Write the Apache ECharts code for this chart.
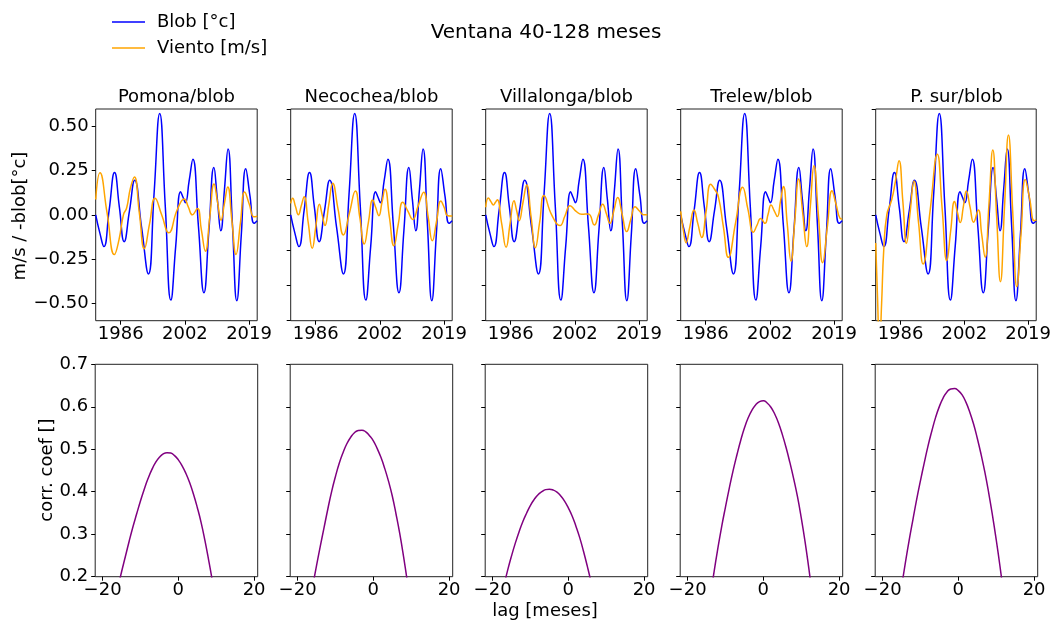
<!DOCTYPE html>
<html>
<head>
<meta charset="utf-8">
<script src="https://cdn.jsdelivr.net/npm/echarts@6/dist/echarts.min.js"></script>
<style>
  html, body { margin: 0; padding: 0; background: #fff; }
  #chart { width: 1054px; height: 623px; }
</style>
</head>
<body>
<div id="chart"></div>
<script>
// Stations compared against the blob index
const stations = ['Pomona', 'Necochea', 'Villalonga', 'Trelew', 'P. sur'];

// Band-passed (40-128 months) series: [decimal year, value]
const blob = [
  [1979.5, 0.0], [1980.6, -0.105], [1981.62, -0.18], [1983.01, 0.03], [1984.4, 0.24],
  [1985.65, 0.044], [1986.9, -0.152], [1988.27, 0.022], [1989.63, 0.196], [1991.41, -0.07],
  [1993.19, -0.335], [1994.66, 0.12], [1996.12, 0.575], [1997.58, 0.046], [1999.03, -0.483],
  [2000.29, -0.176], [2001.55, 0.131], [2002.18, 0.10], [2002.8, 0.069], [2003.77, 0.192],
  [2004.74, 0.315], [2006.18, -0.063], [2007.62, -0.441], [2008.91, -0.087], [2010.2, 0.268],
  [2011.1, 0.089], [2012.0, -0.09], [2012.94, 0.142], [2013.88, 0.373], [2015.02, -0.057],
  [2016.15, -0.487], [2017.32, -0.113], [2018.48, 0.262], [2019.57, 0.107], [2020.65, -0.048],
  [2021.45, -0.033]
];

const vientoPomona = [
  [1979.5, 0.087], [1980.6, 0.238], [1982.48, 0.007], [1984.35, -0.225], [1985.56, -0.14],
  [1986.7, 0.0], [1987.55, 0.04], [1988.5, 0.15], [1989.54, 0.215], [1990.84, 0.01],
  [1992.14, -0.192], [1993.5, -0.05], [1994.91, 0.094], [1996.7, -0.004], [1998.46, -0.102],
  [2000.7, 0.03], [2002.5, 0.09], [2003.55, 0.045], [2004.6, 0.0], [2005.9, 0.036],
  [2006.95, -0.085], [2008.0, -0.206], [2009.12, -0.015], [2010.24, 0.175], [2011.15, 0.072],
  [2012.05, -0.03], [2012.93, 0.064], [2013.8, 0.158], [2014.88, -0.033], [2015.95, -0.225],
  [2017.08, -0.047], [2018.2, 0.13], [2019.4, 0.06], [2020.6, -0.011], [2021.45, -0.008]
];

const vientoNecochea = [
  [1979.5, 0.065], [1980.0, 0.094], [1980.75, 0.047], [1981.5, 0.0], [1982.25, 0.052],
  [1983.0, 0.103], [1984.05, -0.044], [1985.1, -0.19], [1986.03, -0.065], [1986.95, 0.06],
  [1987.68, 0.0], [1988.4, -0.06], [1989.4, 0.06], [1990.4, 0.179], [1991.8, 0.033],
  [1993.2, -0.114], [1994.75, 0.01], [1996.3, 0.135], [1997.45, -0.015], [1998.6, -0.165],
  [1999.7, -0.04], [2000.8, 0.084], [2001.6, 0.04], [2002.4, -0.005], [2003.2, 0.07],
  [2004.0, 0.145], [2005.15, -0.015], [2006.3, -0.175], [2007.45, -0.052], [2008.6, 0.071],
  [2009.9, 0.023], [2011.2, -0.026], [2012.6, 0.051], [2014.05, 0.128], [2015.2, -0.01],
  [2016.3, -0.147], [2017.4, -0.035], [2018.5, 0.078], [2019.4, 0.04], [2020.3, -0.005],
  [2021.45, -0.007]
];

const vientoVillalonga = [
  [1979.5, 0.043], [1980.2, 0.095], [1980.85, 0.075], [1981.5, 0.056], [1982.0, 0.07],
  [1982.5, 0.086], [1983.65, -0.05], [1984.8, -0.184], [1985.83, -0.05], [1986.86, 0.08],
  [1987.53, 0.025], [1988.2, -0.033], [1989.18, 0.07], [1990.15, 0.169], [1991.28, -0.01],
  [1992.4, -0.186], [1993.53, -0.04], [1994.65, 0.109], [1996.64, 0.0], [1998.8, -0.061],
  [2000.1, -0.005], [2001.4, 0.052], [2003.0, 0.02], [2004.43, 0.003], [2006.17, 0.005],
  [2007.72, -0.057], [2008.8, 0.0], [2009.89, 0.06], [2010.85, 0.006], [2011.79, -0.048],
  [2012.8, 0.025], [2013.79, 0.099], [2014.95, 0.002], [2016.12, -0.095], [2017.2, -0.025],
  [2018.29, 0.046], [2019.5, 0.02], [2020.5, 0.0], [2021.45, 0.0]
];

const vientoTrelew = [
  [1979.5, 0.02], [1980.2, -0.09], [1980.89, -0.158], [1981.9, -0.065], [1982.96, 0.027],
  [1983.95, -0.05], [1984.95, -0.128], [1986.1, 0.02], [1987.29, 0.173], [1988.3, 0.145],
  [1989.28, 0.103], [1990.6, -0.07], [1991.88, -0.241], [1993.75, -0.045], [1995.6, 0.156],
  [1996.98, 0.03], [1998.37, -0.099], [1999.3, -0.06], [2000.28, -0.02], [2001.4, -0.048],
  [2002.2, 0.004], [2002.96, 0.056], [2003.8, 0.023], [2004.61, -0.01], [2005.4, 0.075],
  [2006.17, 0.16], [2007.17, -0.05], [2008.16, -0.262], [2009.15, -0.03], [2010.15, 0.203],
  [2011.2, 0.01], [2012.23, -0.18], [2013.18, 0.05], [2014.13, 0.279], [2015.25, 0.004],
  [2016.38, -0.271], [2017.6, -0.067], [2018.81, 0.137], [2019.85, 0.06], [2020.9, -0.02],
  [2021.45, -0.024]
];

const vientoPSur = [
  [1979.5, -0.16], [1979.95, -0.45], [1980.5, -0.75], [1981.05, -0.5], [1981.6, -0.2],
  [1982.4, 0.0], [1983.66, 0.084], [1984.65, 0.19], [1985.6, 0.307], [1986.6, 0.075],
  [1987.55, -0.161], [1988.5, 0.015], [1989.5, 0.192], [1990.7, -0.045], [1991.9, -0.279],
  [1993.75, 0.03], [1995.6, 0.343], [1996.85, 0.04], [1998.1, -0.26], [1999.1, -0.09],
  [2000.1, 0.075], [2000.85, 0.015], [2001.6, -0.044], [2002.4, 0.045], [2003.2, 0.135],
  [2004.15, 0.045], [2005.1, -0.042], [2006.3, 0.027], [2007.2, -0.11], [2008.1, -0.241],
  [2009.1, 0.06], [2010.1, 0.368], [2011.1, -0.005], [2012.1, -0.379], [2013.15, 0.037],
  [2014.2, 0.453], [2015.3, 0.023], [2016.4, -0.407], [2017.5, -0.103], [2018.6, 0.201],
  [2019.75, 0.09], [2020.9, -0.033], [2021.45, -0.029]
];

// Lagged correlation coefficient: [lag in months, corr]
const corrPomona = [
  [-17, 0.133], [-16, 0.173], [-15, 0.211], [-14, 0.247], [-13, 0.283], [-12, 0.317],
  [-11, 0.348], [-10, 0.378], [-9, 0.406], [-8, 0.431], [-7, 0.452], [-6, 0.469],
  [-5, 0.481], [-4, 0.489], [-3, 0.492], [-2, 0.491], [-1, 0.485], [0, 0.475],
  [1, 0.461], [2, 0.443], [3, 0.421], [4, 0.394], [5, 0.363], [6, 0.328],
  [7, 0.286], [8, 0.239], [9, 0.189], [10, 0.135]
];
const corrNecochea = [
  [-17, 0.127], [-16, 0.178], [-15, 0.226], [-14, 0.272], [-13, 0.316], [-12, 0.360],
  [-11, 0.401], [-10, 0.436], [-9, 0.467], [-8, 0.492], [-7, 0.513], [-6, 0.528],
  [-5, 0.539], [-4, 0.544], [-3, 0.545], [-2, 0.541], [-1, 0.532], [0, 0.520],
  [1, 0.502], [2, 0.481], [3, 0.455], [4, 0.425], [5, 0.390], [6, 0.347],
  [7, 0.300], [8, 0.246], [9, 0.187], [10, 0.123]
];
const corrVillalonga = [
  [-18, 0.140], [-17, 0.179], [-16, 0.216], [-15, 0.249], [-14, 0.279], [-13, 0.306],
  [-12, 0.330], [-11, 0.350], [-10, 0.368], [-9, 0.382], [-8, 0.393], [-7, 0.400],
  [-6, 0.405], [-5, 0.406], [-4, 0.404], [-3, 0.399], [-2, 0.390], [-1, 0.378],
  [0, 0.362], [1, 0.343], [2, 0.319], [3, 0.292], [4, 0.260], [5, 0.225],
  [6, 0.187], [7, 0.144]
];
const corrTrelew = [
  [-14, 0.152], [-13, 0.212], [-12, 0.267], [-11, 0.318], [-10, 0.364], [-9, 0.408],
  [-8, 0.449], [-7, 0.486], [-6, 0.520], [-5, 0.550], [-4, 0.574], [-3, 0.592],
  [-2, 0.605], [-1, 0.612], [0, 0.614], [1, 0.609], [2, 0.599], [3, 0.583],
  [4, 0.562], [5, 0.535], [6, 0.504], [7, 0.469], [8, 0.431], [9, 0.389],
  [10, 0.339], [11, 0.283], [12, 0.220], [13, 0.153]
];
const corrPSur = [
  [-15, 0.176], [-14, 0.232], [-13, 0.285], [-12, 0.334], [-11, 0.382], [-10, 0.426],
  [-9, 0.468], [-8, 0.508], [-7, 0.543], [-6, 0.575], [-5, 0.601], [-4, 0.621],
  [-3, 0.635], [-2, 0.642], [-1, 0.643], [0, 0.638], [1, 0.628], [2, 0.611],
  [3, 0.588], [4, 0.560], [5, 0.526], [6, 0.488], [7, 0.446], [8, 0.398],
  [9, 0.345], [10, 0.287], [11, 0.224], [12, 0.157]
];

const viento = [vientoPomona, vientoNecochea, vientoVillalonga, vientoTrelew, vientoPSur];
const corr = [corrPomona, corrNecochea, corrVillalonga, corrTrelew, corrPSur];

// Axis ticks (year ticks sit every 200 months)
const yearTicks = [1986, 2002.67, 2019.33];
const topYTicksFirst = [-0.5, -0.25, 0, 0.25, 0.5];
const lagTicks = [-20, 0, 20];

const FONT = 'DejaVu Sans';
const minus = s => String(s).replace('-', '\u2212');

const panelLeft = i => 95.7 + 195 * i;
const panelWidth = 161.5;
const topTop = 109, topHeight = 211.7;
const botTop = 364.3, botHeight = 212.4;

// grids 0-4: time series row; grids 5-9: correlation row
const topGrids = [], botGrids = [];
const topX = [], botX = [], topY = [], botY = [];
const series = [], texts = [];
const tickStyle = { show: true, inside: false, length: 4, lineStyle: { color: '#000', width: 1 } };
const labelBase = { color: '#000', fontSize: 18, fontFamily: FONT };

for (let i = 0; i < 5; i++) {
  topGrids.push({ left: panelLeft(i), top: topTop, width: panelWidth, height: topHeight,
    show: true, borderColor: '#222', borderWidth: 1, backgroundColor: '#fff' });
  topX.push({
    type: 'value', gridIndex: i, min: 1979.5, max: 2021.45,
    axisLine: { show: false, onZero: false },
    axisTick: Object.assign({}, tickStyle, { customValues: yearTicks }),
    axisLabel: Object.assign({}, labelBase, { customValues: yearTicks, margin: 5,
      formatter: v => String(Math.floor(v + 0.001)) }),
    splitLine: { show: false }
  });
  topY.push(i === 0 ? {
    type: 'value', gridIndex: i, min: -0.6, max: 0.6,
    axisLine: { show: false, onZero: false },
    axisTick: Object.assign({}, tickStyle, { customValues: topYTicksFirst }),
    axisLabel: Object.assign({}, labelBase, { customValues: topYTicksFirst, margin: 7,
      formatter: v => minus(v.toFixed(2)) }),
    splitLine: { show: false }
  } : {
    type: 'value', gridIndex: i, min: -0.6, max: 0.6, interval: 0.2,
    axisLine: { show: false, onZero: false },
    axisTick: tickStyle,
    axisLabel: { show: false },
    splitLine: { show: false }
  });
  series.push({
    name: 'Blob [°c]', type: 'line', xAxisIndex: i, yAxisIndex: i, data: blob,
    smooth: 0.5, symbol: 'none', color: '#0000ff', lineStyle: { width: 1.5, color: '#0000ff' }
  });
  series.push({
    name: 'Viento [m/s]', type: 'line', xAxisIndex: i, yAxisIndex: i, data: viento[i],
    smooth: 0.5, symbol: 'none', color: '#ffa500', lineStyle: { width: 1.5, color: '#ffa500' }
  });
  texts.push({ type: 'text', x: panelLeft(i) + panelWidth / 2, y: 97,
    style: { text: stations[i] + '/blob', font: '18px ' + FONT, fill: '#000',
      align: 'center', verticalAlign: 'middle' } });

  const g = 5 + i;
  botGrids.push({ left: panelLeft(i) - 0.5, top: botTop, width: panelWidth + 1, height: botHeight,
    show: true, borderColor: '#222', borderWidth: 1, backgroundColor: '#fff' });
  botX.push({
    type: 'value', gridIndex: g, min: -21.95, max: 20.95,
    axisLine: { show: false, onZero: false },
    axisTick: Object.assign({}, tickStyle, { customValues: lagTicks }),
    axisLabel: Object.assign({}, labelBase, { customValues: lagTicks, margin: 5,
      formatter: v => minus(v) }),
    splitLine: { show: false }
  });
  botY.push({
    type: 'value', gridIndex: g, min: 0.2, max: 0.7, interval: 0.1,
    axisLine: { show: false, onZero: false },
    axisTick: tickStyle,
    axisLabel: i === 0 ? Object.assign({}, labelBase, { margin: 7, formatter: v => v.toFixed(1) })
                       : { show: false },
    splitLine: { show: false }
  });
}
for (let i = 0; i < 5; i++) {
  series.push({
    name: 'corr', type: 'line', xAxisIndex: 5 + i, yAxisIndex: 5 + i, data: corr[i],
    smooth: 0.5, symbol: 'none', color: '#800080', lineStyle: { width: 1.5, color: '#800080' }
  });
}

texts.push({ type: 'text', x: 546, y: 33,
  style: { text: 'Ventana 40-128 meses', font: '20px ' + FONT, fill: '#000',
    align: 'center', verticalAlign: 'middle' } });
texts.push({ type: 'text', x: 545, y: 611,
  style: { text: 'lag [meses]', font: '18px ' + FONT, fill: '#000',
    align: 'center', verticalAlign: 'middle' } });
texts.push({ type: 'text', x: 20, y: 216, rotation: Math.PI / 2,
  style: { text: 'm/s / -blob[°c]', font: '18px ' + FONT, fill: '#000',
    align: 'center', verticalAlign: 'middle' } });
texts.push({ type: 'text', x: 47, y: 470, rotation: Math.PI / 2,
  style: { text: 'corr. coef []', font: '18px ' + FONT, fill: '#000',
    align: 'center', verticalAlign: 'middle' } });

const chart = echarts.init(document.getElementById('chart'), null, { renderer: 'canvas' });
chart.setOption({
  animation: false,
  backgroundColor: '#fff',
  grid: topGrids.concat(botGrids),
  xAxis: topX.concat(botX),
  yAxis: topY.concat(botY),
  series: series,
  legend: {
    data: ['Blob [°c]', 'Viento [m/s]'],
    orient: 'vertical', left: 107, top: 8,
    icon: 'rect', itemWidth: 33, itemHeight: 1.5, itemGap: 8,
    textStyle: { fontSize: 18, fontFamily: FONT, color: '#000', lineHeight: 18, padding: [0, 0, 0, 7] }
  },
  graphic: texts
});
</script>
</body>
</html>
